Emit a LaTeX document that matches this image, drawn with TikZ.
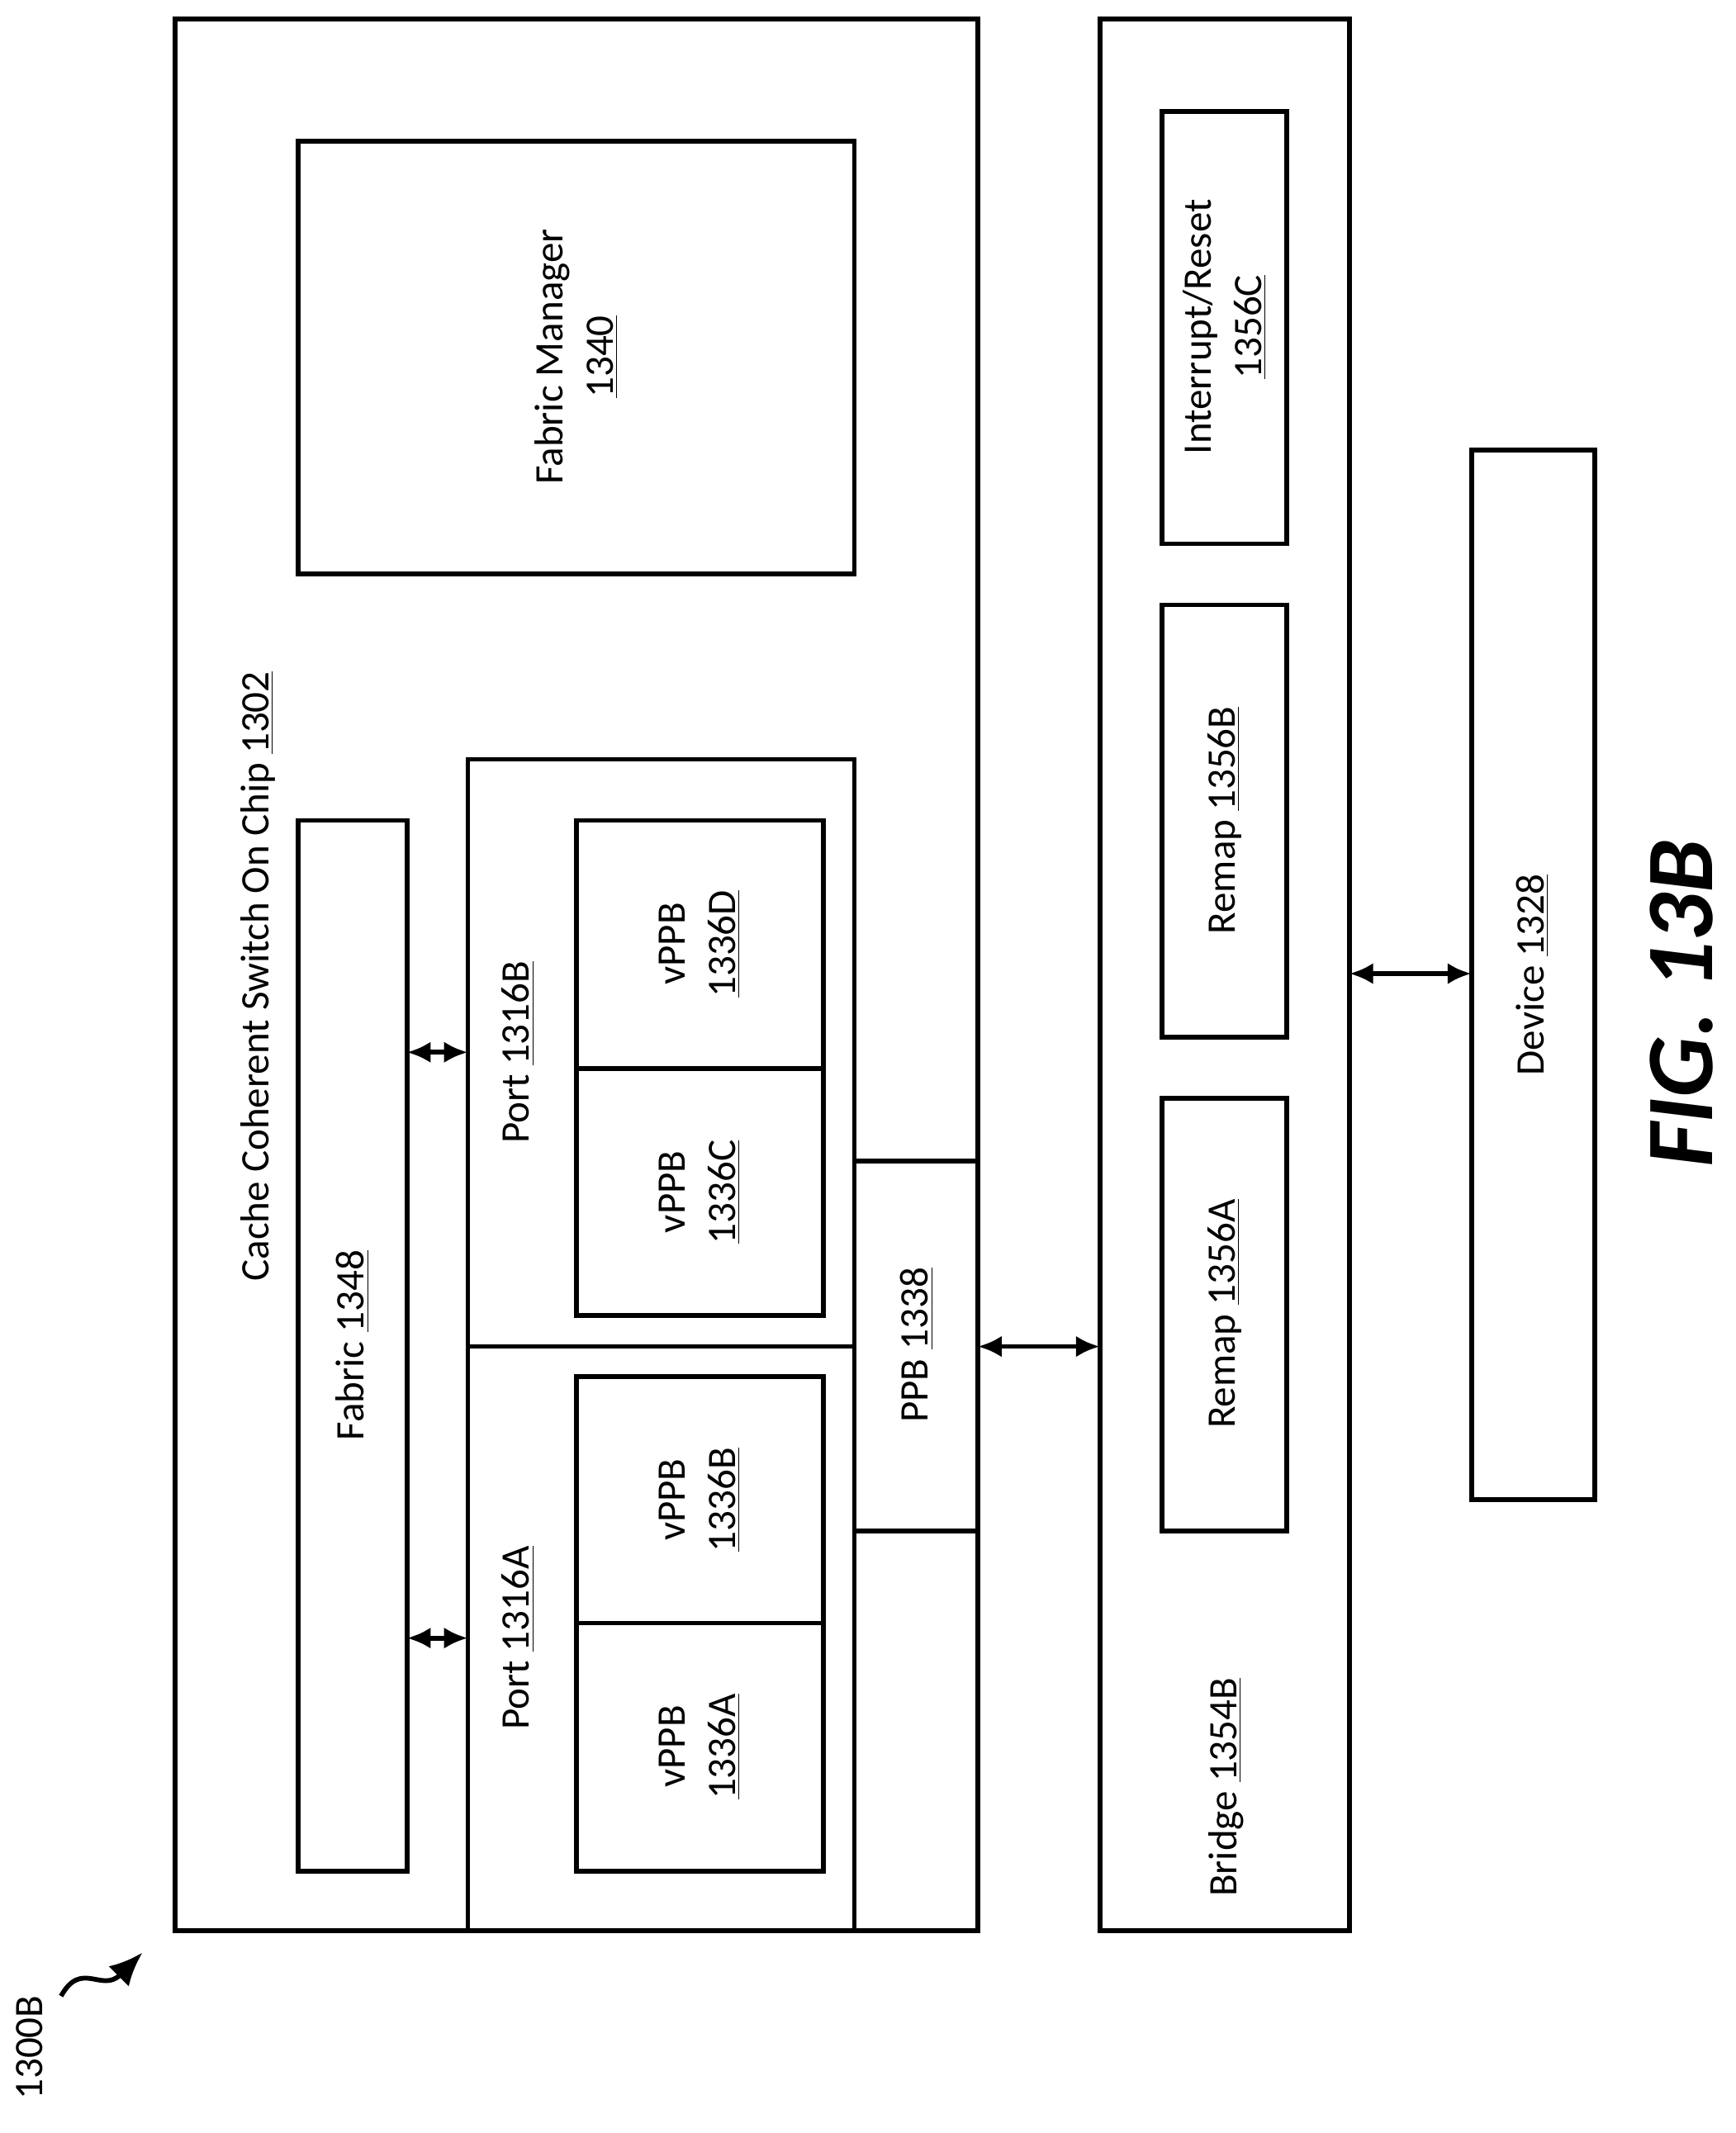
\documentclass[tikz,border=0pt]{standalone}
\usepackage{fontspec}
\setmainfont{Carlito}
\usetikzlibrary{arrows.meta}
\tikzset{
  box/.style={draw,line width=2pt},
  lbl/.style={rotate=90,align=center,font=\fontsize{17}{21}\selectfont},
  dbl/.style={{Latex[length=10pt,width=9pt]}-{Latex[length=10pt,width=9pt]},line width=2pt}
}
\begin{document}
\begin{tikzpicture}[x=0.02cm,y=-0.02cm]
                \useasboundingbox (0,0) rectangle (1280,1573);
                % chip
                \draw[box] (129,14) rectangle (721,1424);
                \node[lbl] (chip) at (190,720) {Cache Coherent Switch On Chip \underline{1302}};
                \draw[box] (220,104) rectangle (630,423);
                \node[lbl] (fm) at (425,263) {Fabric Manager\\\underline{1340}};
                \draw[box] (220,605) rectangle (300,1380);
                \node[lbl] (fab) at (260,992) {Fabric \underline{1348}};
                \draw[box] (345,560) rectangle (630,1424);
                \draw[box] (345,993) -- (630,993);
                \node[lbl] (portB) at (382,776) {Port \underline{1316B}};
                \node[lbl] (portA) at (382,1208) {Port \underline{1316A}};
                \draw[box] (425,605) rectangle (607,788);
                \draw[box] (425,788) rectangle (607,970);
                \draw[box] (425,1015) rectangle (607,1197);
                \draw[box] (425,1197) rectangle (607,1380);
                \node[lbl] (vD) at (516,696) {vPPB\\\underline{1336D}};
                \node[lbl] (vC) at (516,879) {vPPB\\\underline{1336C}};
                \node[lbl] (vB) at (516,1106) {vPPB\\\underline{1336B}};
                \node[lbl] (vA) at (516,1288) {vPPB\\\underline{1336A}};
                \draw[box] (630,856) rectangle (721,1129);
                \node[lbl] (ppb) at (676,992) {PPB \underline{1338}};
                % bridge
                \draw[box] (811,14) rectangle (995,1424);
                \node[lbl] (br) at (904,1318) {Bridge \underline{1354B}};
                \draw[box] (857,82) rectangle (949,401);
                \node[lbl] (irq) at (903,241) {Interrupt/Reset\\\underline{1356C}};
                \draw[box] (857,446) rectangle (949,765);
                \node[lbl] (rmB) at (903,605) {Remap \underline{1356B}};
                \draw[box] (857,810) rectangle (949,1129);
                \node[lbl] (rmA) at (903,969) {Remap \underline{1356A}};
                % device
                \draw[box] (1085,332) rectangle (1176,1106);
                \node[lbl] (dev) at (1130,719) {Device \underline{1328}};
                % links
                \draw[dbl] (300,776) -- (345,776);
                \draw[dbl] (300,1208) -- (345,1208);
                \draw[dbl] (721,993) -- (811,993);
                \draw[dbl] (995,718) -- (1085,718);
                \node[rotate=90,font=\fontsize{40}{44}\selectfont\bfseries\itshape] (fig) at (1240,740) {FIG. 13B};
                \node[lbl] (ref) at (22,1510) {1300B};
                \draw[line width=2pt,-{Latex[length=14pt,width=12pt]}] (45,1472) .. controls (60,1445) and (75,1470) .. (105,1440);
            \end{tikzpicture}
\end{document}
